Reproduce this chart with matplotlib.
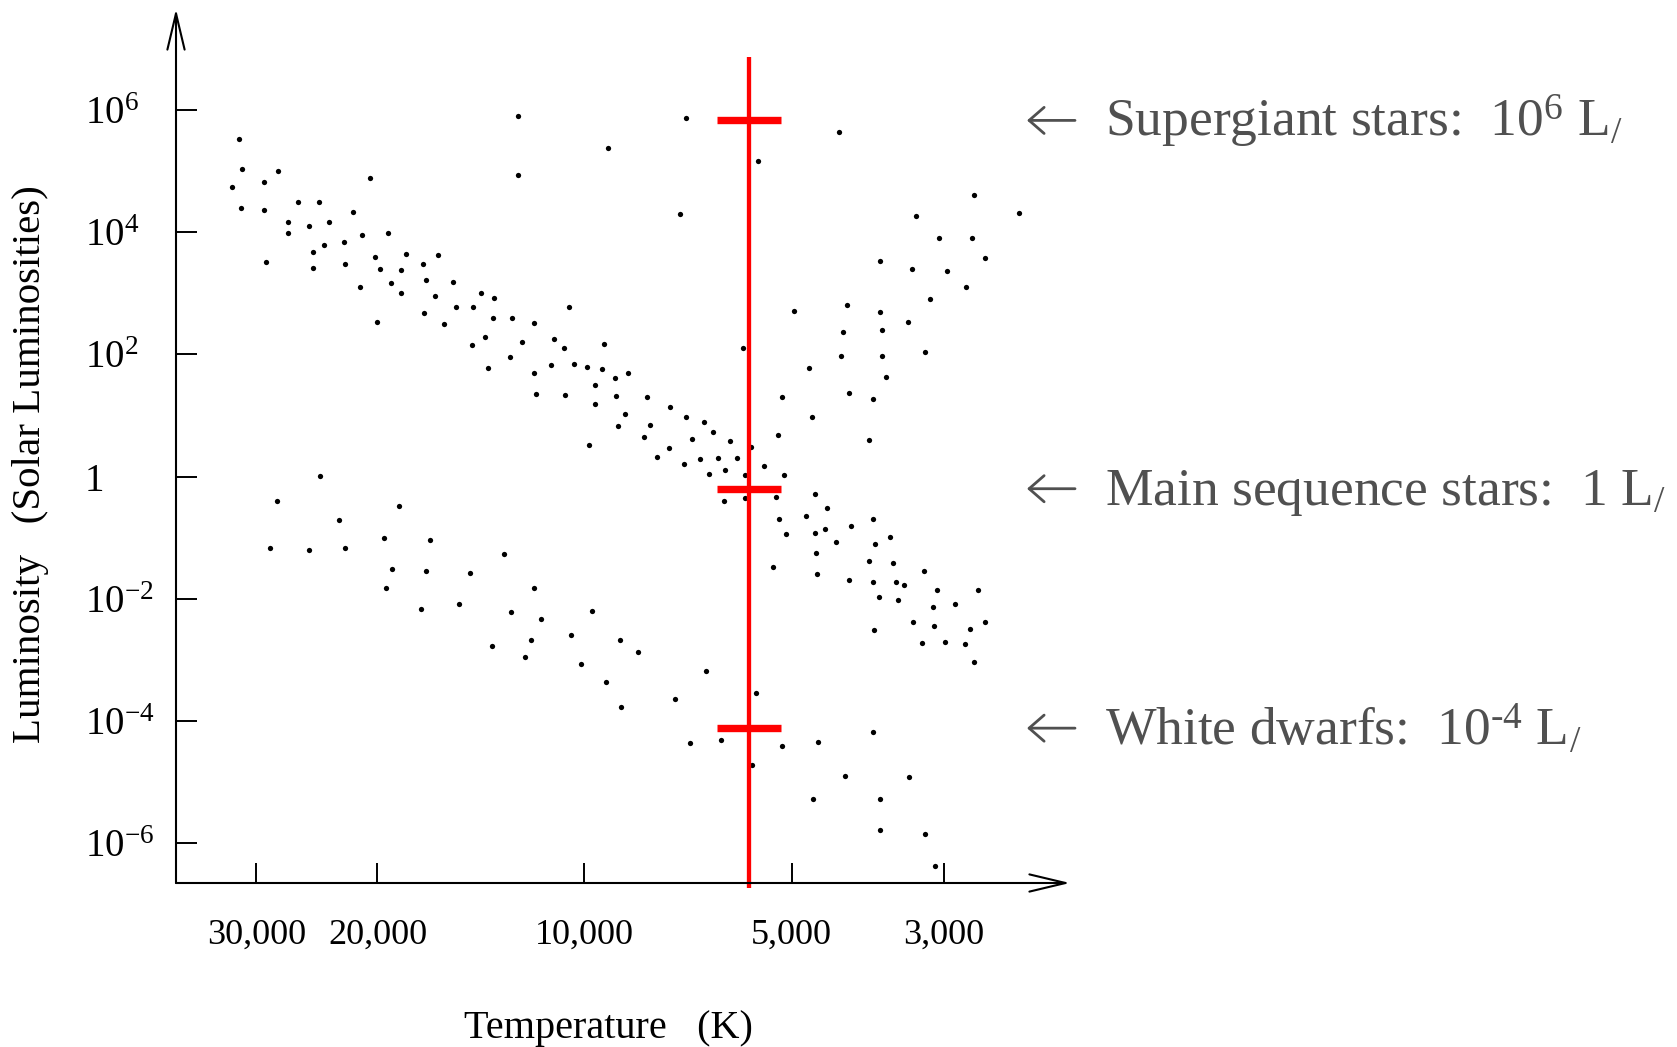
import numpy as np
import matplotlib.pyplot as plt
from matplotlib.ticker import NullLocator
from matplotlib.transforms import blended_transform_factory

plt.rcParams['font.family'] = ['Liberation Serif', 'DejaVu Serif']
plt.rcParams['mathtext.fontset'] = 'custom'
plt.rcParams['mathtext.rm'] = 'Liberation Serif'
plt.rcParams['mathtext.it'] = 'Liberation Serif:italic'
plt.rcParams['mathtext.bf'] = 'Liberation Serif:bold'
plt.rcParams['mathtext.default'] = 'regular'

#################
# Data (log10 of temperature in K, log10 of luminosity in solar units)
#################

# Main sequence, hot upper left down to cool lower right
main_log_t = [4.503, 4.498, 4.512, 4.466, 4.446, 4.312, 4.500, 4.466, 4.416, 4.386,
              4.336, 4.431, 4.401, 4.372, 4.431, 4.324, 4.285, 4.349, 4.379, 4.394,
              4.463, 4.394, 4.348, 4.305, 4.297, 4.260, 4.267, 4.235, 4.213, 4.327,
              4.282, 4.267, 4.231, 4.218, 4.191, 4.233, 4.302, 4.204, 4.187, 4.162,
              4.151, 4.131, 4.133, 4.106, 4.163, 4.145, 4.140, 4.108, 4.091,
              4.023, 4.073, 3.758, 3.739, 3.710, 3.767, 3.778, 3.795, 3.819, 3.806,
              3.832, 3.855, 3.789, 3.813, 3.826, 3.844, 3.852, 3.876, 3.877, 3.894,
              3.905, 3.909, 3.914, 3.937, 3.941, 3.952, 3.954, 3.955, 3.975, 3.972,
              3.984, 3.985, 3.997, 3.994, 4.015, 4.029, 4.030, 4.044, 4.048, 4.070,
              4.073,
              3.797, 3.767, 3.721, 3.665, 3.647, 3.717, 3.678, 3.580, 3.707, 3.665,
              3.650, 3.612, 3.635, 3.578, 3.556, 3.664, 3.586, 3.551, 3.726, 3.662,
              3.616, 3.581, 3.547, 3.535, 3.506, 3.572, 3.544, 3.487, 3.428, 3.494,
              3.461, 3.522, 3.492, 3.440, 3.418, 3.579, 3.509, 3.476, 3.447, 3.433]
main_log_l = [5.52, 5.03, 4.74, 4.82, 5.00, 4.88, 4.40, 4.36, 4.49, 4.49,
              4.33, 4.17, 4.10, 4.17, 3.98, 3.95, 3.98, 3.84, 3.79, 3.68,
              3.52, 3.41, 3.48, 3.59, 3.39, 3.64, 3.38, 3.48, 3.63, 3.10,
              3.16, 3.01, 3.22, 2.96, 3.18, 2.67, 2.53, 2.49, 2.78, 2.78,
              3.00, 2.93, 2.59, 2.59, 2.15, 2.28, 1.78, 1.96, 2.21,
              2.78, 2.52, 0.48, 0.18, 0.02, 0.02, 0.31, 0.11, 0.04, 0.30,
              0.29, 0.20, 0.58, 0.73, 0.89, 0.62, 0.98, 1.14, 0.46, 0.32,
              0.85, 1.30, 0.64, 1.69, 1.03, 0.83, 1.32, 1.61, 1.76, 2.17,
              1.18, 1.50, 1.79, 0.52, 1.85, 1.33, 2.11, 2.25, 1.83, 1.35,
              1.69,
              -0.40, -0.36, -0.33, -0.29, -0.52, -0.70, -0.64, -0.70, -0.94, -0.92,
              -0.86, -0.81, -1.08, -1.10, -0.99, -1.26, -1.38, -1.42, -1.48, -1.60,
              -1.69, -1.72, -1.72, -1.77, -1.54, -1.97, -2.03, -1.85, -1.85, -2.13,
              -2.09, -2.39, -2.44, -2.49, -2.39, -2.52, -2.73, -2.71, -2.75, -3.03]

# Red giants, upper right
giant_log_t = [3.434, 3.368, 3.518, 3.484, 3.437, 3.417, 3.571, 3.524, 3.473, 3.446,
               3.497, 3.619, 3.695, 3.571, 3.529, 3.624, 3.568, 3.505, 3.627, 3.568,
               3.769, 3.673, 3.562, 3.616, 3.580, 3.713, 3.669, 3.718, 3.586]
giant_log_l = [4.61, 4.31, 4.26, 3.91, 3.90, 3.57, 3.53, 3.40, 3.37, 3.11,
               2.90, 2.80, 2.71, 2.70, 2.53, 2.37, 2.40, 2.04, 1.97, 1.97,
               2.10, 1.78, 1.63, 1.37, 1.27, 1.30, 0.97, 0.68, 0.60]

# Supergiants, top row
super_log_t = [4.096, 4.097, 3.852, 3.966, 3.748, 3.630, 3.861]
super_log_l = [5.91, 4.93, 5.87, 5.38, 5.17, 5.64, 4.30]

# White dwarfs, lower band
dwarf_log_t = [4.384, 4.447, 4.269, 4.357, 4.457, 4.401, 4.348, 4.291, 4.224, 4.117,
               4.280, 4.231, 4.167, 4.289, 4.183, 4.237, 4.107, 4.134, 4.087,
               4.073, 4.063, 4.078, 4.020, 3.989, 3.948, 3.922, 4.005, 3.969, 3.947,
               3.868, 3.824, 3.750, 3.847, 3.801, 3.713, 3.660, 3.581, 3.757, 3.621,
               3.528, 3.668, 3.571, 3.570, 3.505, 3.491]
dwarf_log_l = [0.01, -0.40, -0.48, -0.71, -1.17, -1.21, -1.17, -1.01, -1.04, -1.27,
               -1.52, -1.55, -1.58, -1.83, -2.08, -2.17, -2.22, -2.78, -2.95,
               -1.83, -2.34, -2.67, -2.60, -2.21, -2.68, -2.88, -3.07, -3.36, -3.77,
               -3.64, -3.18, -3.54, -4.36, -4.32, -4.41, -4.34, -4.19, -4.73, -4.91,
               -4.92, -5.28, -5.28, -5.79, -5.86, -6.38]

# Sun temperature marker and the three reference luminosity levels
sun_temp = 5772
level_lum = [10**5.83, 10**-0.20, 10**-4.12]
level_labels = ['Supergiant stars:  10$^{6}$ L$_{/}$',
                'Main sequence stars:  1 L$_{/}$',
                'White dwarfs:  10$^{\\text{-}4}$ L$_{/}$']

temp_ticks = [30000, 20000, 10000, 5000, 3000]
temp_labels = ['30,000', '20,000', '10,000', '5,000', '3,000']
lum_ticks = [1e6, 1e4, 1e2, 1, 1e-2, 1e-4, 1e-6]
lum_labels = ['$10^{6}$', '$10^{4}$', '$10^{2}$', '1',
              '$10^{-2}$', '$10^{-4}$', '$10^{-6}$']

# Start of plotting

fig = plt.figure(figsize=(16.77, 10.47), dpi=100)
ax = fig.add_axes([0.10495, 0.15664, 0.5331, 0.83477])
ax.set_xscale('log')
ax.set_yscale('log')

for lt, ll in [(main_log_t, main_log_l), (giant_log_t, giant_log_l),
               (super_log_t, super_log_l), (dwarf_log_t, dwarf_log_l)]:
    ax.plot(10**np.array(lt), 10**np.array(ll), 'o', color='k',
            markersize=3.8, markeredgewidth=0)

ax.set_xlim(10**4.5939, 10**3.2941)
ax.set_ylim(10**-6.655, 10**7.654)

# sun line with the three bars
ax.vlines(sun_temp, 10**-6.74, 10**6.87, colors='red', linewidth=3.1,
          clip_on=False, zorder=3)
ax.hlines(level_lum, sun_temp * 1.113, sun_temp / 1.113, colors='red',
          linewidth=5.3, zorder=3)

# axes drawn as arrows
for spine in ax.spines.values():
    spine.set_visible(False)
arrow_kw = dict(arrowstyle='->,head_length=2.6,head_width=0.62', lw=1.5,
                color='k', shrinkA=0, shrinkB=0, mutation_scale=10)
ax.annotate('', xy=(0, 1), xytext=(0, 0), xycoords='axes fraction',
            arrowprops=arrow_kw)
ax.annotate('', xy=(1, 0), xytext=(0, 0), xycoords='axes fraction',
            arrowprops=arrow_kw)

ax.set_xticks(temp_ticks, temp_labels)
ax.set_yticks(lum_ticks, lum_labels)
ax.xaxis.set_minor_locator(NullLocator())
ax.yaxis.set_minor_locator(NullLocator())
ax.tick_params(axis='x', direction='in', length=14.4, width=1.4,
               labelsize=26, pad=26)
ax.tick_params(axis='y', direction='in', length=15, width=1.4,
               labelsize=28, pad=65.5)
for lbl in ax.get_yticklabels():
    lbl.set_horizontalalignment('left')

ax.set_xlabel('Temperature   (K)', fontsize=29, va='center')
ax.xaxis.set_label_coords(0.4832, -0.166)
ax.set_ylabel('Luminosity   (Solar Luminosities)', fontsize=29.5, va='center')
ax.yaxis.set_label_coords(-0.1633, 0.4794)

# labels on the right, each with a grey pointer
trans = blended_transform_factory(ax.transAxes, ax.transData)
note_kw = dict(arrowstyle='->,head_length=1.08,head_width=0.94', lw=2.0,
               color='#505050', shrinkA=0, shrinkB=0, mutation_scale=10)
for lvl, lab in zip(level_lum, level_labels):
    ax.annotate('', xy=(0.9519, lvl), xytext=(1.0056, lvl),
                xycoords=trans, textcoords=trans, arrowprops=note_kw)
    ax.annotate(lab, xy=(1.039, lvl), xycoords=trans, xytext=(0, -11.5),
                textcoords='offset points', fontsize=38.5, color='#505050',
                ha='left', va='baseline')

fig.savefig('out.png', dpi=100)
